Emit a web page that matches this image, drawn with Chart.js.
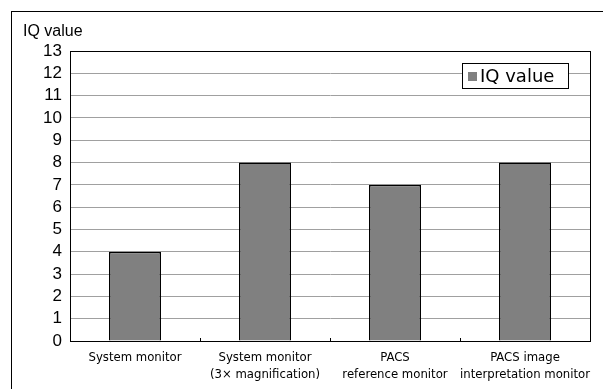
<!DOCTYPE html>
<html>
<head>
<meta charset="utf-8">
<script src="https://cdn.jsdelivr.net/npm/chart.js@4"></script>
<style>
  html, body { margin: 0; padding: 0; background: #fff; overflow: hidden; }
  #wrap { position: absolute; left: 0; top: 0; width: 603px; height: 389px; }
  #frame { position: absolute; left: 11px; top: 11px; width: 700px; height: 500px; border-left: 1px solid #000; border-top: 1px solid #000; pointer-events: none; }
</style>
</head>
<body>
<div id="wrap"><canvas id="c" width="603" height="389"></canvas></div>
<div id="frame"></div>
<script>
const categories = [
  ["System monitor"],
  ["System monitor", "(3\u00d7 magnification)"],
  ["PACS", "reference monitor"],
  ["PACS image", "interpretation monitor"]
];
const seriesName = "IQ value";
const iqValues = [4, 8, 7, 8];
const yTicks = [0,1,2,3,4,5,6,7,8,9,10,11,12,13];
const yTitle = "IQ value";

const decor = {
  id: 'decor',
  afterDraw(chart) {
    const ctx = chart.ctx;
    const a = chart.chartArea;
    const xs = chart.scales.x;
    ctx.save();
    // plot frame
    ctx.strokeStyle = '#000';
    ctx.lineWidth = 1;
    ctx.strokeRect(Math.round(a.left) + 0.5, Math.round(a.top) + 0.5, Math.round(a.right - a.left), Math.round(a.bottom - a.top));
    // inward category tick marks
    for (let i = 0; i < categories.length - 1; i++) {
      const x = Math.round(xs.getPixelForValue(i + 0.5)) + 0.5;
      ctx.beginPath();
      ctx.moveTo(x, a.bottom);
      ctx.lineTo(x, a.bottom - 3);
      ctx.stroke();
    }
    // axis title
    ctx.fillStyle = '#000';
    ctx.font = '16px "Liberation Sans", Arial, sans-serif';
    ctx.textAlign = 'left';
    ctx.textBaseline = 'middle';
    ctx.fillText(yTitle, a.left - 47, a.top - 19);
    // legend
    const lx = a.right - 128, ly = a.top + 12, lw = 106, lh = 25;
    ctx.fillStyle = '#fff';
    ctx.fillRect(lx, ly, lw, lh);
    ctx.strokeRect(lx + 0.5, ly + 0.5, lw, lh);
    ctx.fillStyle = '#808080';
    ctx.fillRect(lx + 6, ly + 9, 9, 9);
    ctx.fillStyle = '#000';
    ctx.font = '18px "DejaVu Sans", Arial, sans-serif';
    ctx.fillText(seriesName, lx + 18, ly + 14);
    ctx.restore();
  }
};

new Chart(document.getElementById('c'), {
  type: 'bar',
  data: {
    labels: categories,
    datasets: [{
      label: seriesName,
      data: iqValues,
      backgroundColor: '#808080',
      borderColor: '#000',
      borderWidth: 1.5,
      categoryPercentage: 1.0,
      barPercentage: 0.4
    }]
  },
  options: {
    responsive: false,
    animation: false,
    devicePixelRatio: 1,
    layout: { padding: { left: 0, top: 51, right: 13, bottom: 0 } },
    plugins: { legend: { display: false }, tooltip: { enabled: false }, title: { display: false } },
    scales: {
      x: {
        offset: true,
        grid: { display: false, drawTicks: false },
        border: { display: true, color: '#000', width: 1 },
        ticks: {
          color: '#000',
          padding: 8,
          maxRotation: 0,
          autoSkip: false,
          font: { family: '"Liberation Sans Narrow", "DejaVu Sans Condensed", Arial, sans-serif', size: 13, lineHeight: 1.3 }
        },
        afterFit(scale) { scale.height = 48; }
      },
      y: {
        min: 0,
        max: 13,
        afterBuildTicks(scale) { scale.ticks = yTicks.map(v => ({ value: v })); },
        grid: { color: '#a0a0a0', lineWidth: 1, drawTicks: false },
        border: { display: true, color: '#000', width: 1 },
        ticks: {
          color: '#000',
          padding: 8,
          autoSkip: false,
          font: { family: '"Liberation Sans", Arial, sans-serif', size: 17 }
        },
        afterFit(scale) { scale.width = 70; }
      }
    }
  },
  plugins: [decor]
});
</script>
</body>
</html>
